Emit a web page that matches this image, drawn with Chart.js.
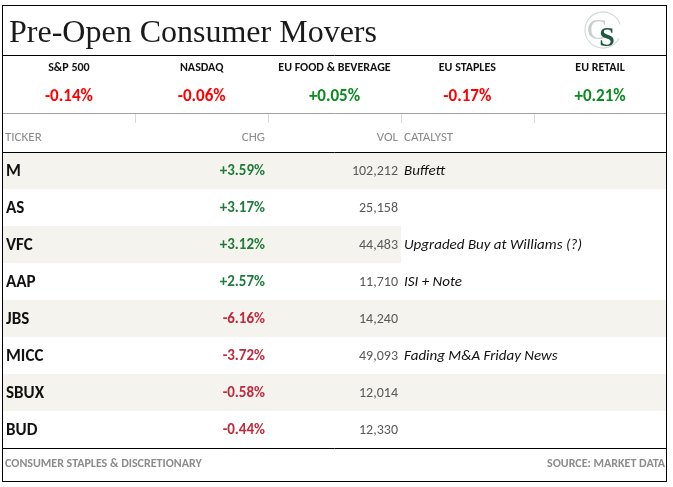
<!DOCTYPE html>
<html>
<head>
<meta charset="utf-8">
<script src="https://cdn.jsdelivr.net/npm/chart.js@4.4.1/dist/chart.umd.min.js"></script>
<style>
  html, body { margin: 0; padding: 0; background: #fff; }
  #wrap { width: 673px; height: 487px; }
</style>
</head>
<body>
<div id="wrap"><canvas id="chart" width="673" height="487"></canvas></div>
<script>
// Bandeau des indices
const indexNames = ["S&P 500", "NASDAQ", "EU FOOD & BEVERAGE", "EU STAPLES", "EU RETAIL"];
const indexChanges = [-0.14, -0.06, 0.05, -0.17, 0.21];

// Lignes du tableau
const tickers = ["M", "AS", "VFC", "AAP", "JBS", "MICC", "SBUX", "BUD"];
const changes = [3.59, 3.17, 3.12, 2.57, -6.16, -3.72, -0.58, -0.44];
const volumes = [102212, 25158, 44483, 11710, 14240, 49093, 12014, 12330];
const catalysts = ["Buffett", "", "Upgraded Buy at Williams (?)", "ISI + Note", "", "Fading M&A Friday News", "", ""];

const TITLE = "Pre-Open Consumer Movers";
const FOOT_LEFT = "CONSUMER STAPLES & DISCRETIONARY";
const FOOT_RIGHT = "SOURCE: MARKET DATA";

const SANS = "Carlito, Lato, 'Noto Sans', sans-serif";
const SERIF = "'Liberation Serif', 'DejaVu Serif', serif";

// Colonnes (bords droits / gauches en pixels)
const COL_CHG_RIGHT = 265;
const COL_VOL_RIGHT = 398;
const COL_CAT_LEFT = 404;

function fmtPct(v) {
  return (v > 0 ? "+" : "") + v.toFixed(2) + "%";
}

function fmtVol(v) {
  return v.toLocaleString("en-US");
}

function text(ctx, str, x, y, font, color, align) {
  ctx.font = font;
  ctx.fillStyle = color;
  ctx.textAlign = align || "left";
  ctx.textBaseline = "middle";
  ctx.fillText(str, x, y);
}

function hline(ctx, x1, x2, y, color) {
  ctx.strokeStyle = color;
  ctx.lineWidth = 1;
  ctx.beginPath();
  ctx.moveTo(x1, y);
  ctx.lineTo(x2, y);
  ctx.stroke();
}

// Tout le tableau est dessiné à partir de l'échelle Y (une catégorie = une ligne)
const tablePlugin = {
  id: "table",
  beforeDatasetsDraw(chart) {
    const { ctx, chartArea, scales } = chart;
    const y = scales.y;
    const half = (y.getPixelForValue(1) - y.getPixelForValue(0)) / 2;

    ctx.save();
    // lignes grisées une sur deux
    tickers.forEach((t, i) => {
      if (i % 2 !== 0) return;
      const cy = y.getPixelForValue(i);
      const right = i === 2 ? COL_CAT_LEFT - 3 : chartArea.right;
      ctx.fillStyle = "#F4F3EE";
      ctx.fillRect(chartArea.left, cy - half, right - chartArea.left, half * 2);
    });
    ctx.restore();
  },
  afterDraw(chart) {
    const { ctx, chartArea, scales } = chart;
    const y = scales.y;
    const L = 2.5, R = 666.5;

    ctx.save();

    // titre
    ctx.font = "32px " + SERIF;
    ctx.fillStyle = "#1a1a1a";
    ctx.textAlign = "left";
    ctx.textBaseline = "alphabetic";
    ctx.fillText(TITLE, 9, 42);

    // logo
    ctx.strokeStyle = "#d3dbd6";
    ctx.lineWidth = 1.2;
    ctx.beginPath();
    ctx.arc(603, 30, 18, 0.15 * Math.PI, 1.9 * Math.PI);
    ctx.stroke();
    ctx.font = "30px " + SERIF;
    ctx.fillStyle = "#c8cfcb";
    ctx.textAlign = "center";
    ctx.fillText("C", 597, 39);
    ctx.font = "bold 28px " + SERIF;
    ctx.fillStyle = "#1f5a3e";
    ctx.fillText("S", 607, 46);

    hline(ctx, L, R, 55.5, "#000");

    // bandeau des indices
    const colW = (R - L) / indexNames.length;
    indexNames.forEach((name, k) => {
      const cx = L + colW * (k + 0.5);
      text(ctx, name, cx, 68, "bold 12px " + SANS, "#111", "center");
      const v = indexChanges[k];
      text(ctx, fmtPct(v), cx, 97, "bold 17px " + SANS, v >= 0 ? "#0a8a1f" : "#ff0000", "center");
    });

    hline(ctx, L, R, 113.5, "#a0a0a0");
    ctx.strokeStyle = "#d9d9d9";
    for (let k = 1; k < indexNames.length; k++) {
      const x = Math.round(L + colW * k) + 0.5;
      ctx.beginPath();
      ctx.moveTo(x, 114);
      ctx.lineTo(x, 123);
      ctx.stroke();
    }

    // en-têtes de colonnes
    const headFont = "13px " + SANS;
    text(ctx, "TICKER", 5, 138, headFont, "#8c8c8c", "left");
    text(ctx, "CHG", COL_CHG_RIGHT, 138, headFont, "#8c8c8c", "right");
    text(ctx, "VOL", COL_VOL_RIGHT, 138, headFont, "#8c8c8c", "right");
    text(ctx, "CATALYST", COL_CAT_LEFT, 138, headFont, "#8c8c8c", "left");

    hline(ctx, L, R, Math.round(chartArea.top) + 0.5, "#000");

    // lignes
    tickers.forEach((t, i) => {
      const cy = y.getPixelForValue(i) + 1;
      text(ctx, t, 6, cy, "bold 17px " + SANS, "#111", "left");
      const c = changes[i];
      text(ctx, fmtPct(c), COL_CHG_RIGHT, cy, "bold 15px " + SANS, c >= 0 ? "#1e7b3a" : "#c0283c", "right");
      text(ctx, fmtVol(volumes[i]), COL_VOL_RIGHT, cy, "14px " + SANS, "#595959", "right");
      if (catalysts[i]) {
        text(ctx, catalysts[i], COL_CAT_LEFT, cy, "italic 15px " + SANS, "#111", "left");
      }
    });

    hline(ctx, L, R, Math.round(chartArea.bottom) + 0.5, "#000");

    // pied
    text(ctx, FOOT_LEFT, 5, 464, "bold 12px " + SANS, "#8c8c8c", "left");
    text(ctx, FOOT_RIGHT, 665, 464, "bold 12px " + SANS, "#8c8c8c", "right");

    // cadre
    ctx.strokeStyle = "#000";
    ctx.lineWidth = 1;
    ctx.strokeRect(L, 5.5, R - L, 481.5 - 5.5);

    ctx.restore();
  }
};

new Chart(document.getElementById("chart").getContext("2d"), {
  type: "bar",
  data: {
    labels: tickers,
    datasets: [{
      label: "CHG",
      data: changes,
      backgroundColor: "rgba(0,0,0,0)",
      borderWidth: 0
    }]
  },
  options: {
    indexAxis: "y",
    responsive: false,
    animation: false,
    events: [],
    layout: { padding: { top: 152, bottom: 39, left: 2, right: 6 } },
    plugins: { legend: { display: false }, tooltip: { enabled: false } },
    scales: {
      x: { display: false, min: -10, max: 10 },
      y: { display: false }
    }
  },
  plugins: [tablePlugin]
});
</script>
</body>
</html>
